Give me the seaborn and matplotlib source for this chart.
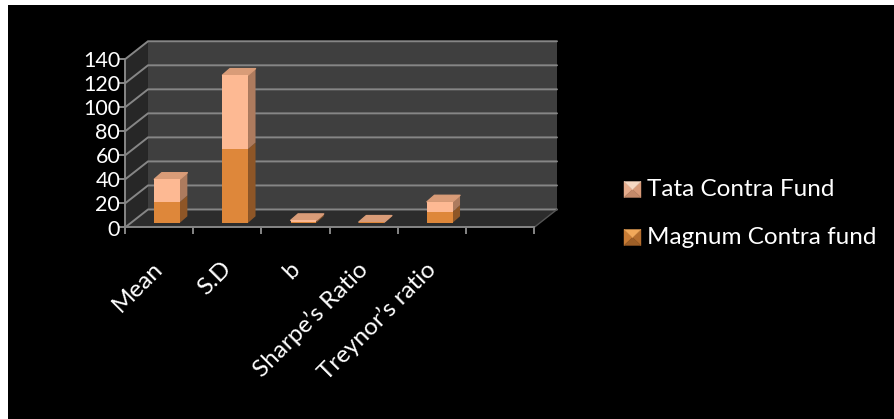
import matplotlib
matplotlib.use("Agg")
import matplotlib.pyplot as plt
from matplotlib.patches import Polygon
import seaborn as sns
import pandas as pd

categories = ["Mean", "S.D", "b", "Sharpe’s Ratio", "Treynor’s ratio", ""]
magnum = [17.3, 61.4, 1.0, 0.3, 9.2]
tata = [19.0, 61.6, 1.0, 0.3, 8.3]
y_ticks = [0, 20, 40, 60, 80, 100, 120, 140]
series_names = ["Tata Contra Fund", "Magnum Contra fund"]

W, H = 894, 419
FONT = ["Lato", "DejaVu Sans"]
sns.set_theme(style="white")
plt.rcParams["font.family"] = FONT

C_TATA, C_TATA_SIDE, C_TATA_TOP = "#FDB993", "#AD7B5E", "#D99C78"
C_MAG, C_MAG_SIDE = "#DE873A", "#8E5627"
GRID = "#868686"

fig = plt.figure(figsize=(W / 100, H / 100), dpi=100, facecolor="white")
bg = fig.add_axes([8 / W, 0, (W - 8) / W, 1 - 5 / H])
bg.set_facecolor("black")
bg.set_xticks([]); bg.set_yticks([])
for s in bg.spines.values():
    s.set_visible(False)


def pixel_axes(x0, x1, y_top, y_bot, **kw):
    return fig.add_axes([x0 / W, 1 - y_bot / H, (x1 - x0) / W, (y_bot - y_top) / H], **kw)


ax = pixel_axes(125, 534, 59.3, 227.5)
ax.patch.set_alpha(0)
ax.set_xlim(0, len(categories))
ax.set_ylim(y_ticks[0], y_ticks[-1])
dx, dy = 23 / 68.2, 18 / 1.2
n = len(categories)
top = y_ticks[-1]

# Wall, side wall and floor of the 3D box
ax.fill([dx, n + dx, n + dx, dx], [dy, dy, top + dy, top + dy], color="#3F3F3F", lw=0, zorder=1, clip_on=False)
ax.fill([0, dx, dx, 0], [0, dy, top + dy, top], color="#272727", lw=0, zorder=1, clip_on=False)
ax.fill([0, n, n + dx, dx], [0, 0, dy, dy], color="#2C2C2C", lw=0, zorder=1, clip_on=False)
for t in y_ticks:
    ax.plot([0, dx, n + dx], [t, t + dy, t + dy], color=GRID, lw=1.4, zorder=2,
            clip_on=False, solid_joinstyle="miter")
ax.plot([n, n + dx], [0, dy], color="#555555", lw=1.0, zorder=2, clip_on=False)

ax.set_xticks(range(n + 1))
ax.set_xticklabels([""] * (n + 1))
ax.set_yticks(y_ticks)
ax.set_yticklabels([str(t) for t in y_ticks], color="white", fontsize=15.5)
ax.tick_params(axis="both", length=5, width=1.4, color=GRID, left=True, bottom=True)
ax.tick_params(axis="y", pad=-1.5)
for name in ("top", "right"):
    ax.spines[name].set_visible(False)
for name in ("left", "bottom"):
    ax.spines[name].set_color(GRID)
    ax.spines[name].set_linewidth(1.4)

for i, label in enumerate(categories):
    ax.annotate(label, xy=(i + 0.5, 0), xytext=(-5, -22), textcoords="offset points",
                rotation=45, rotation_mode="anchor", ha="right", va="top",
                color="white", fontsize=17.5, annotation_clip=False)

# Bars stand on the floor, slightly behind the front edge
bax = pixel_axes(133, 542, 54.7, 222.8)
bax.patch.set_alpha(0)
totals = [m + t for m, t in zip(magnum, tata)]
df = pd.DataFrame({"cat": categories[:len(magnum)], "mag": magnum, "tot": totals})
bdx, bdy = 7.5 / 68.2, 6.5 / 1.2
bw = 0.375
hw = bw / 2
for i, (m, tot) in enumerate(zip(magnum, totals)):
    bax.fill([i + hw, i + hw + bdx, i + hw + bdx, i + hw], [0, bdy, m + bdy, m], color=C_MAG_SIDE, lw=0, zorder=1)
    bax.fill([i + hw, i + hw + bdx, i + hw + bdx, i + hw], [m, m + bdy, tot + bdy, tot], color=C_TATA_SIDE, lw=0, zorder=1)
    bax.fill([i - hw, i + hw, i + hw + bdx, i - hw + bdx], [tot, tot, tot + bdy, tot + bdy],
             facecolor=C_TATA_TOP, edgecolor=C_TATA_TOP, lw=1, joinstyle="round", zorder=1)
sns.barplot(data=df, x="cat", y="tot", color=C_TATA, saturation=1, width=bw, ax=bax, zorder=2, linewidth=0)
sns.barplot(data=df, x="cat", y="mag", color=C_MAG, saturation=1, width=bw, ax=bax, zorder=3, linewidth=0)
bax.set_xlim(-0.5, n - 0.5)
bax.set_ylim(y_ticks[0], y_ticks[-1])
bax.axis("off")

# Legend: pyramid-bevelled keys built from four triangles
key_faces = [
    ("#F6D8C2", "#E6AC8C", "#D89A78", "#C48A6A"),
    ("#F2A95A", "#C97C35", "#B56E2E", "#9E5F27"),
]
for name, (f_top, f_left, f_right, f_bot), py in zip(series_names, key_faces, [189.5, 237.5]):
    x0, x1, y0, y1 = 624, 641, py - 8, py + 8
    cx, cy = (x0 + x1) / 2, (y0 + y1) / 2
    corners = {"top": [(x0, y0), (x1, y0)], "left": [(x0, y0), (x0, y1)],
               "right": [(x1, y0), (x1, y1)], "bot": [(x0, y1), (x1, y1)]}
    for key, col in zip(("left", "right", "bot", "top"), (f_left, f_right, f_bot, f_top)):
        pts = [(px / W, 1 - qy / H) for px, qy in corners[key] + [(cx, cy)]]
        fig.add_artist(Polygon(pts, closed=True, transform=fig.transFigure, facecolor=col, edgecolor=col, lw=0.3))
    fig.text(647 / W, 1 - py / H, name, color="white", fontsize=17.5, va="center", ha="left")

fig.savefig("out.png", dpi=100, facecolor="white")
